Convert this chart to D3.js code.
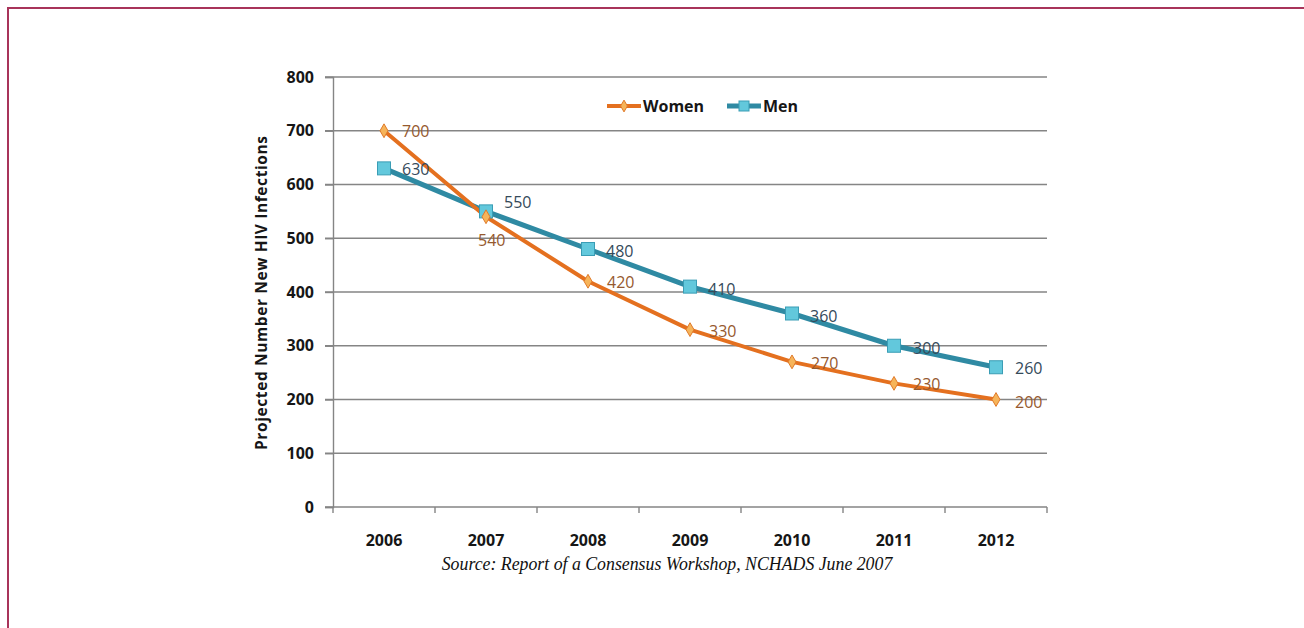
<!DOCTYPE html>
<html>
<head>
<meta charset="utf-8">
<script src="https://cdn.jsdelivr.net/npm/d3@7"></script>
<style>
  html, body { margin: 0; padding: 0; background: #fff; }
  svg { display: block; }
</style>
</head>
<body>
<svg id="chart" width="1304" height="628"></svg>
<script>
// Projected new HIV infections by year
const years = ["2006", "2007", "2008", "2009", "2010", "2011", "2012"];
const women = [700, 540, 420, 330, 270, 230, 200];
const men = [630, 550, 480, 410, 360, 300, 260];
const yTicks = [0, 100, 200, 300, 400, 500, 600, 700, 800];
const seriesNames = ["Women", "Men"];

const svg = d3.select("#chart");

// slide frame
svg.append("path")
  .attr("d", "M8,628 V8 H1304")
  .attr("fill", "none")
  .attr("stroke", "#a8345a")
  .attr("stroke-width", 2);

const x = d3.scaleBand().domain(years).range([333, 1047]);
const y = d3.scaleLinear().domain([0, 800]).range([507, 77]);

const font = "'Open Sans', 'DejaVu Sans', sans-serif";
const gridColor = "#858585";

// gridlines
svg.append("g")
  .selectAll("line")
  .data(yTicks.filter(d => d > 0))
  .join("line")
  .attr("x1", 325).attr("x2", 1047)
  .attr("y1", d => y(d)).attr("y2", d => y(d))
  .attr("stroke", gridColor).attr("stroke-width", 1.4);

// y axis
const yAxis = svg.append("g")
  .attr("transform", "translate(333,0)")
  .call(d3.axisLeft(y).tickValues(yTicks).tickSize(8).tickPadding(11));
yAxis.select(".domain").attr("stroke", gridColor).attr("stroke-width", 1.4);
yAxis.selectAll(".tick line").attr("stroke", gridColor).attr("stroke-width", 1.4);
yAxis.selectAll("text")
  .attr("font-family", font).attr("font-weight", 700)
  .attr("font-size", 16).attr("fill", "#161616");

// x axis, ticks at category boundaries
const xAxisG = svg.append("g").attr("transform", "translate(0,507)");
xAxisG.append("line")
  .attr("x1", 325).attr("x2", 1047)
  .attr("stroke", gridColor).attr("stroke-width", 1.4);
const bounds = years.map(d => x(d)).concat([x(years[years.length - 1]) + x.bandwidth()]);
xAxisG.selectAll("line.tk").data(bounds).join("line")
  .attr("class", "tk")
  .attr("x1", d => d).attr("x2", d => d)
  .attr("y1", 0).attr("y2", 6)
  .attr("stroke", gridColor).attr("stroke-width", 1.4);
xAxisG.selectAll("text").data(years).join("text")
  .attr("x", d => x(d) + x.bandwidth() / 2)
  .attr("y", 39)
  .attr("text-anchor", "middle")
  .attr("font-family", font).attr("font-weight", 700)
  .attr("font-size", 16).attr("fill", "#161616")
  .text(d => d);

// y axis title
svg.append("text")
  .attr("transform", "translate(267,293) rotate(-90)")
  .attr("text-anchor", "middle")
  .attr("font-family", font).attr("font-weight", 700)
  .attr("font-size", 15.5).attr("fill", "#161616")
  .attr("textLength", 314).attr("lengthAdjust", "spacing")
  .text("Projected Number New HIV Infections");

const line = d3.line()
  .x((d, i) => x(years[i]) + x.bandwidth() / 2)
  .y(d => y(d));

const womenColor = "#e4701f";
const menColor = "#2f8aa3";

// series lines
svg.append("path").datum(men)
  .attr("d", line).attr("fill", "none")
  .attr("stroke", menColor).attr("stroke-width", 5)
  .attr("stroke-linejoin", "round");
svg.append("path").datum(women)
  .attr("d", line).attr("fill", "none")
  .attr("stroke", womenColor).attr("stroke-width", 4)
  .attr("stroke-linejoin", "round");

// markers
svg.append("g").selectAll("rect").data(men).join("rect")
  .attr("x", (d, i) => x(years[i]) + x.bandwidth() / 2 - 6.5)
  .attr("y", d => y(d) - 6.5)
  .attr("width", 13).attr("height", 13)
  .attr("fill", "#62c8dc").attr("stroke", "#3a9db5").attr("stroke-width", 1);
svg.append("g").selectAll("path").data(women).join("path")
  .attr("d", d3.symbol().type(d3.symbolDiamond).size(55))
  .attr("transform", (d, i) => `translate(${x(years[i]) + x.bandwidth() / 2},${y(d)})`)
  .attr("fill", "#f6b45a").attr("stroke", "#e07a2a").attr("stroke-width", 1);

// data labels: [dx, dy] offsets per point
const womenOffsets = [[18, 6], [-8, 29], [19, 7], [19, 7], [19, 7], [19, 7], [19, 8]];
const menOffsets = [[18, 7], [18, -3], [18, 8], [18, 8], [18, 8], [19, 8], [19, 7]];

svg.append("g").selectAll("text").data(women).join("text")
  .attr("x", (d, i) => x(years[i]) + x.bandwidth() / 2 + womenOffsets[i][0])
  .attr("y", (d, i) => y(d) + womenOffsets[i][1])
  .attr("font-family", font).attr("font-size", 16)
  .attr("fill", "#96592e")
  .text(d => d);
svg.append("g").selectAll("text").data(men).join("text")
  .attr("x", (d, i) => x(years[i]) + x.bandwidth() / 2 + menOffsets[i][0])
  .attr("y", (d, i) => y(d) + menOffsets[i][1])
  .attr("font-family", font).attr("font-size", 16)
  .attr("fill", "#354a5a")
  .text(d => d);

// legend
const legend = svg.append("g").attr("transform", "translate(607,106)");
const legendItems = [
  { name: seriesNames[0], color: womenColor, x: 0 },
  { name: seriesNames[1], color: menColor, x: 120 }
];
legendItems.forEach((it, i) => {
  const g = legend.append("g").attr("transform", `translate(${it.x},0)`);
  g.append("line").attr("x1", 0).attr("x2", 34).attr("y1", 0).attr("y2", 0)
    .attr("stroke", it.color).attr("stroke-width", i === 0 ? 4 : 5);
  if (i === 0) {
    g.append("path").attr("d", d3.symbol().type(d3.symbolDiamond).size(40))
      .attr("transform", "translate(17,0)")
      .attr("fill", "#f6b45a").attr("stroke", "#e07a2a");
  } else {
    g.append("rect").attr("x", 12).attr("y", -5).attr("width", 10).attr("height", 10)
      .attr("fill", "#62c8dc").attr("stroke", "#3a9db5");
  }
  g.append("text").attr("x", 36).attr("y", 6)
    .attr("font-family", font).attr("font-weight", 700)
    .attr("font-size", 16).attr("fill", "#161616")
    .text(it.name);
});

// source note
svg.append("text")
  .attr("x", 667).attr("y", 570)
  .attr("text-anchor", "middle")
  .attr("font-family", "'Liberation Serif', 'Times New Roman', serif")
  .attr("font-style", "italic").attr("font-size", 17.8).attr("fill", "#111")
  .text("Source: Report of a Consensus Workshop, NCHADS June 2007");
</script>
</body>
</html>
